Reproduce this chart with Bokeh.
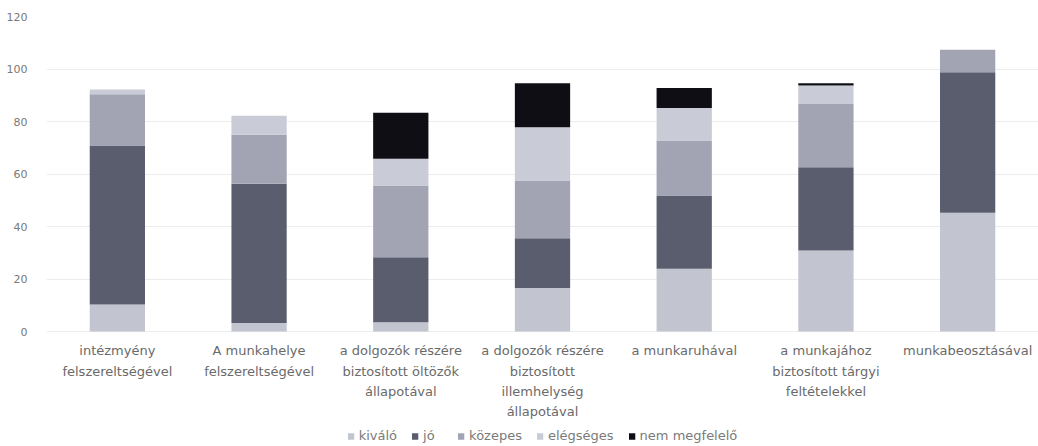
from bokeh.plotting import figure
from bokeh.models import FactorRange, Legend, LegendItem, Range1d
from bokeh.core.properties import value
from bokeh.embed import file_html
from bokeh.resources import INLINE

categories = [
    "intézmyény\nfelszereltségével",
    "A munkahelye\nfelszereltségével",
    "a dolgozók részére\nbiztosított öltözők\nállapotával",
    "a dolgozók részére\nbiztosított\nillemhelység\nállapotával",
    "a munkaruhával",
    "a munkajához\nbiztosított tárgyi\nfeltételekkel",
    "munkabeosztásával",
]
series_names = ["kiváló", "jó", "közepes", "elégséges", "nem megfelelő"]
kivalo = [10.3, 3.2, 3.5, 16.6, 23.9, 30.9, 45.2]
jo = [60.6, 53.1, 24.8, 18.9, 27.9, 31.7, 53.6]
kozepes = [19.5, 18.7, 27.3, 22.0, 21.0, 24.1, 8.5]
elegseges = [1.8, 7.2, 10.2, 20.3, 12.3, 7.0, 0.0]
nem_megfelelo = [0.0, 0.0, 17.5, 16.8, 7.7, 0.9, 0.0]
y_ticks = [0, 20, 40, 60, 80, 100, 120]

colors = ["#c2c4d0", "#5a5d6e", "#a2a4b3", "#c9cbd6", "#0e0e14"]
keys = ["kivalo", "jo", "kozepes", "elegseges", "nem"]
data = dict(cat=categories, kivalo=kivalo, jo=jo, kozepes=kozepes,
            elegseges=elegseges, nem=nem_megfelelo)

FONT = "DejaVu Sans"
# frame spans from 120 (top) down to below the category labels;
# 0 sits 315 px below 120, the frame is 430 px tall
Y_MAX = 120
Y_MIN = Y_MAX - 430 * Y_MAX / 315

p = figure(x_range=FactorRange(*categories), y_range=Range1d(Y_MIN, Y_MAX),
           width=1038, height=446, output_backend="svg", toolbar_location=None,
           x_axis_location=None,
           min_border_left=46, min_border_right=0, min_border_top=16, min_border_bottom=0)
p.outline_line_color = None

rs = p.vbar_stack(keys, x="cat", width=0.39, color=colors, source=data, line_color=None)

# category labels under the bars
label_y = [-4.5] * len(categories)
p.text(x=categories, y=label_y, text=categories, text_font=value(FONT),
       text_font_size="13px", text_color="#6a6a6a", text_align="center",
       text_baseline="top", text_line_height=1.35)

items = [LegendItem(label=n, renderers=[r]) for n, r in zip(series_names, rs)]
legend = Legend(items=items, orientation="horizontal", location="bottom_center",
                glyph_width=8, glyph_height=8, label_text_font=FONT,
                label_text_font_size="13px", label_text_color="#7a7a7a",
                border_line_color=None, background_fill_alpha=0, spacing=14,
                label_standoff=4, padding=0, margin=3)
p.add_layout(legend, "center")

p.yaxis.ticker = y_ticks
p.yaxis.axis_line_color = None
p.yaxis.major_tick_line_color = None
p.yaxis.minor_tick_line_color = None
p.yaxis.major_label_text_font = FONT
p.yaxis.major_label_text_font_size = "11px"
p.yaxis.major_label_text_color = "#7a7a7a"
p.yaxis.major_label_standoff = 13

p.xgrid.grid_line_color = None
p.ygrid.grid_line_color = "#ececec"

open("out.html", "w").write(file_html(p, INLINE))
